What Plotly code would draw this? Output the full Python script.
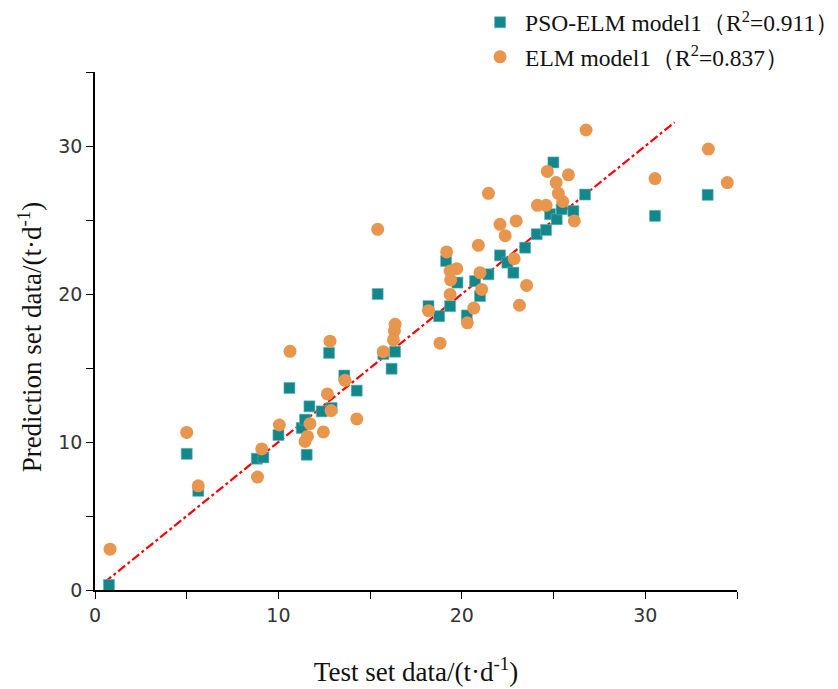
import plotly.graph_objects as go

# PSO-ELM model predictions (test value, predicted value)
pso_x = [0.76, 5.0, 5.63, 8.82, 9.18, 10.0, 10.6, 11.27, 11.45, 11.54, 11.69, 12.36, 12.9, 12.76,
         13.59, 14.27, 15.41, 15.72, 16.17, 16.36, 18.18, 18.76, 19.14, 19.36, 19.76, 20.27, 20.72,
         20.99, 21.45, 22.08, 22.48, 22.81, 23.45, 24.08, 24.59, 24.81, 25.17, 25.44, 26.08, 26.72,
         24.99, 30.53, 33.4]
pso_y = [0.34, 9.2, 6.7, 8.87, 8.96, 10.47, 13.65, 10.95, 11.51, 9.14, 12.41, 12.07, 12.3, 16.02,
         14.49, 13.47, 20.0, 15.95, 14.95, 16.1, 19.18, 18.5, 22.23, 19.18, 20.77, 18.55, 20.87,
         19.86, 21.33, 22.61, 22.12, 21.44, 23.13, 24.04, 24.33, 25.39, 25.05, 25.73, 25.6, 26.72,
         28.89, 25.28, 26.7]

# ELM model predictions
elm_x = [0.82, 5.0, 5.63, 8.86, 9.09, 10.05, 10.63, 11.45, 11.58, 11.72, 12.45, 12.67, 12.81, 12.87,
         13.63, 14.27, 15.41, 15.72, 16.27, 16.36, 16.32, 18.18, 18.81, 19.17, 19.36, 19.72, 19.39,
         19.36, 20.3, 20.65, 20.9, 20.99, 21.08, 21.45, 22.08, 22.36, 22.85, 22.96, 23.14, 23.53,
         24.12, 24.59, 25.14, 25.26, 25.5, 24.66, 25.81, 26.13, 26.77, 30.53, 33.44, 34.47]
elm_y = [2.76, 10.65, 7.04, 7.63, 9.53, 11.15, 16.13, 10.04, 10.38, 11.24, 10.68, 13.25, 16.81, 12.12,
         14.17, 11.56, 24.37, 16.1, 16.9, 17.95, 17.5, 18.87, 16.68, 22.84, 21.55, 21.71, 20.95,
         19.97, 18.05, 19.05, 23.29, 21.44, 20.31, 26.8, 24.71, 23.94, 22.39, 24.94, 19.24, 20.58,
         25.99, 25.99, 27.53, 26.8, 26.25, 28.28, 28.05, 24.94, 31.08, 27.8, 29.79, 27.53]

# y = x reference/fit line end points
fit_x = [0.5, 31.6]
fit_y = [0.5, 31.6]

tick_vals = [0, 5, 10, 15, 20, 25, 30, 35]
tick_text = ["0", "", "10", "", "20", "", "30", ""]

serif = "Liberation Serif"

fig = go.Figure()
fig.add_trace(go.Scatter(
    x=fit_x, y=fit_y, mode="lines", showlegend=False,
    line=dict(color="#FF0000", width=2.2, dash="dashdot")))
fig.add_trace(go.Scatter(
    x=pso_x, y=pso_y, mode="markers", name="PSO-ELM model1（R<sup>2</sup>=0.911）",
    legendgroup="a",
    marker=dict(symbol="square", size=11, color="#13878B", line=dict(width=0.6, color="#5FB3B5"))))
fig.add_trace(go.Scatter(
    x=elm_x, y=elm_y, mode="markers", name="ELM model1（R<sup>2</sup>=0.837）",
    legendgroup="b",
    marker=dict(symbol="circle", size=13, color="#E8964D", line=dict(width=0))))

axis_common = dict(
    showline=True, linecolor="#000000", linewidth=1.5, mirror=False,
    showgrid=False, zeroline=False, ticks="outside", ticklen=7, tickwidth=1.3,
    tickcolor="#000000", tickvals=tick_vals, ticktext=tick_text,
    tickfont=dict(family="DejaVu Sans", size=19, color="#333333"),
    range=[0, 35], automargin=False)

fig.update_layout(
    width=830, height=681,
    paper_bgcolor="white", plot_bgcolor="white",
    margin=dict(l=87, r=101, t=64, b=99, autoexpand=False),
    xaxis=dict(**axis_common,
               title=dict(text="Test set data/(t·d<sup>-1</sup>)",
                          font=dict(family=serif, size=27, color="#111111"), standoff=38)),
    yaxis=dict(**axis_common),
    legend=dict(x=0.592, y=1.138, xanchor="left", yanchor="top",
                font=dict(family=serif, size=23.5, color="#111111"),
                bgcolor="rgba(0,0,0,0)", tracegroupgap=1, traceorder="grouped",
                itemwidth=40),
    showlegend=True,
    annotations=[dict(
        text="Prediction set data/(t·d<sup>-1</sup>)", textangle=-90,
        xref="paper", yref="paper", x=-0.101, y=0.488,
        xanchor="center", yanchor="middle", showarrow=False,
        font=dict(family=serif, size=27, color="#111111"))],
)

fig.write_html("out.html")
